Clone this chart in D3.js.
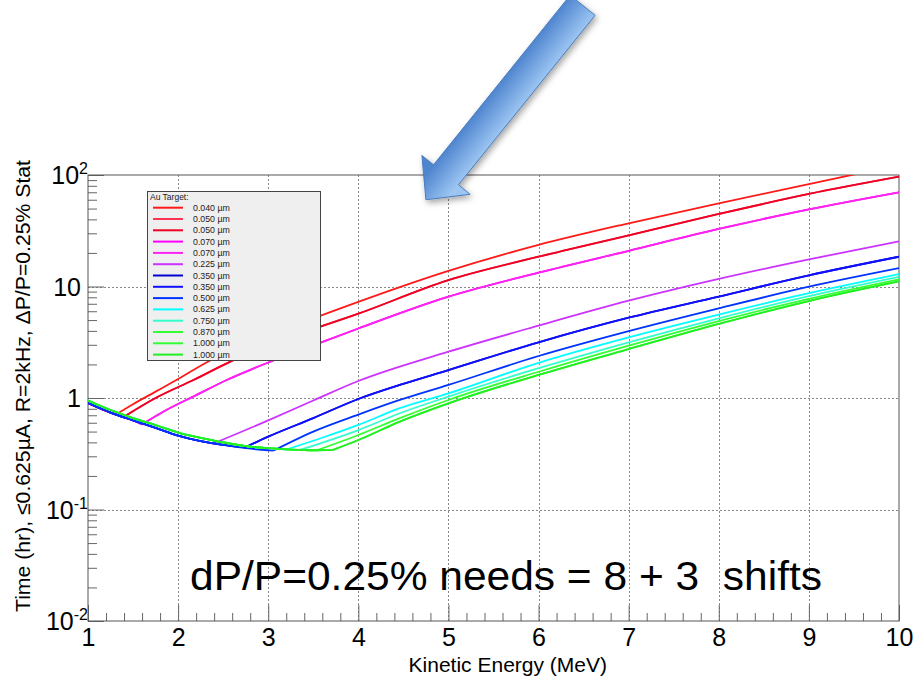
<!DOCTYPE html>
<html>
<head>
<meta charset="utf-8">
<script src="https://cdn.jsdelivr.net/npm/d3@7"></script>
<style>
  body { margin: 0; background: #fff; }
  text { font-family: "Liberation Sans", Arial, sans-serif; }
</style>
</head>
<body>
<div id="chart"></div>
<script>
// common low-energy part of the curves (E in MeV, time in hr)
var envE     = [1, 1.25, 1.5, 1.75, 2, 2.25, 2.5, 2.75, 3, 3.25, 3.5];
var envThin  = [0.90, 0.74, 0.63, 0.54, 0.46, 0.41, 0.38, 0.355, 0.34, 0.335, 0.335];
var envThick = [0.95, 0.78, 0.66, 0.57, 0.49, 0.44, 0.40, 0.37, 0.355, 0.345, 0.34];

// rising branch of each target, starting where it leaves the common curve
var rise040  = [[1.32,0.72],[1.5,0.88],[1.75,1.14],[2,1.48],[2.35,2.16],[3,3.6],[3.9,6.8],[5,13.8],[6,23.6],[7,36.9],[8,55.7],[9,83],[10,123]];
var rise050  = [[1.4,0.68],[1.75,1.0],[2.17,1.45],[2.58,2.12],[3.2,3.4],[4,5.7],[5,11.4],[6,18.5],[7,28.8],[8,44.7],[9,67.6],[10,96.6]];
var rise070  = [[1.6,0.58],[1.87,0.78],[2.2,1.06],[2.54,1.45],[2.98,2.05],[3.5,2.97],[4,4.2],[5,8.1],[6,13.3],[7,20.9],[8,32.8],[9,49.2],[10,70]];
var rise225  = [[2.39,0.39],[3,0.63],[3.5,0.95],[4,1.42],[5,2.6],[6,4.46],[7,7.46],[8,11.7],[9,17.5],[10,25.4]];
var rise350  = [[2.74,0.36],[3,0.45],[3.5,0.66],[4,0.98],[4.46,1.31],[5,1.78],[6,3.16],[7,5.25],[8,8.13],[9,12.6],[10,18.5]];
var rise500  = [[3.06,0.338],[3.5,0.5],[4,0.71],[4.46,0.96],[5,1.31],[6,2.38],[7,3.98],[8,6.37],[9,9.95],[10,14.6]];
var rise625  = [[3.2,0.345],[3.6,0.44],[4,0.573],[4.46,0.81],[5,1.1],[6,2.07],[7,3.5],[8,5.6],[9,8.7],[10,12.9]];
var rise750  = [[3.35,0.342],[4,0.516],[4.46,0.73],[5,1.03],[6,1.85],[7,3.16],[8,5.19],[9,8.2],[10,12.2]];
var rise870  = [[3.54,0.34],[4,0.466],[4.46,0.66],[5,0.96],[6,1.72],[7,2.95],[8,4.9],[9,7.76],[10,11.6]];
var rise1000 = [[3.72,0.343],[4,0.42],[4.46,0.614],[5,0.895],[6,1.61],[7,2.75],[8,4.62],[9,7.41],[10,11.1]];

var targets  = ["0.040 \u00b5m","0.050 \u00b5m","0.050 \u00b5m","0.070 \u00b5m","0.070 \u00b5m","0.225 \u00b5m","0.350 \u00b5m",
                "0.350 \u00b5m","0.500 \u00b5m","0.625 \u00b5m","0.750 \u00b5m","0.870 \u00b5m","1.000 \u00b5m","1.000 \u00b5m"];
var rises    = [rise040, rise050, rise050, rise070, rise070, rise225, rise350,
                rise350, rise500, rise625, rise750, rise870, rise1000, rise1000];
var thickEnv = [0,0,0,0,0,0,0,0,0,1,1,1,1,1];
var colors   = ["#ff1a1a","#ff3355","#ee0022","#ff00ff","#ff22f0","#cc33ff","#0000cc",
                "#1010ff","#0033ff","#00ffff","#33ffcc","#33ff33","#33ff33","#22ee22"];

var xTicks = [1,2,3,4,5,6,7,8,9,10];
var yTicks = [0.01, 0.1, 1, 10, 100];
var yExp   = ["-2","-1","","","2"];

var W = 914, H = 684;
var pL = 88, pR = 899, pT = 175, pB = 621;

var svg = d3.select("#chart").append("svg")
    .attr("width", W)
    .attr("height", H);

var x = d3.scaleLinear().domain([1, 10]).range([pL, pR]);
var y = d3.scaleLog().domain([0.01, 100]).range([pB, pT]);

var defs = svg.append("defs");
defs.append("clipPath").attr("id", "plotclip")
  .append("rect").attr("x", pL).attr("y", pT)
  .attr("width", pR - pL).attr("height", pB - pT);

// grid
var grid = svg.append("g");
grid.selectAll(".vg").data(xTicks.slice(1, -1)).enter().append("line")
    .attr("x1", function(d){ return Math.round(x(d)) + 0.5; }).attr("x2", function(d){ return Math.round(x(d)) + 0.5; })
    .attr("y1", pT).attr("y2", pB)
    .attr("stroke", "#888").attr("stroke-width", 1).attr("stroke-dasharray", "2,2");
grid.selectAll(".hg").data(yTicks.slice(1, -1)).enter().append("line")
    .attr("y1", function(d){ return Math.round(y(d)) + 0.5; }).attr("y2", function(d){ return Math.round(y(d)) + 0.5; })
    .attr("x1", pL).attr("x2", pR)
    .attr("stroke", "#888").attr("stroke-width", 1).attr("stroke-dasharray", "2,2");

// x axis, ticks pointing inwards
var minorX = d3.range(1, 10.01, 0.2).filter(function(d){ return Math.abs(d - Math.round(d)) > 0.01; });
svg.append("g")
    .attr("transform", "translate(0," + pB + ")")
    .call(d3.axisBottom(x).tickValues(xTicks).tickSize(-16).tickPadding(7).tickFormat(d3.format("d")))
    .call(function(g){
      g.select(".domain").remove();
      g.selectAll("line").attr("stroke", "#666");
      g.selectAll("text").attr("font-size", 25).attr("fill", "#000")
        .attr("font-family", "'Liberation Sans', Arial, sans-serif");
    });
svg.append("g")
    .attr("transform", "translate(0," + pB + ")")
    .call(d3.axisBottom(x).tickValues(minorX).tickSize(-8).tickFormat(""))
    .call(function(g){
      g.select(".domain").remove();
      g.selectAll("line").attr("stroke", "#666");
    });

// y axis, log ticks
var minorY = [];
[0.01, 0.1, 1, 10].forEach(function(dec){
  for (var k = 2; k <= 9; k++) minorY.push(dec * k);
});
svg.append("g")
    .attr("transform", "translate(" + pL + ",0)")
    .call(d3.axisLeft(y).tickValues(yTicks).tickSize(-16).tickFormat(""))
    .call(function(g){ g.select(".domain").remove(); g.selectAll("line").attr("stroke", "#666"); });
svg.append("g")
    .attr("transform", "translate(" + pL + ",0)")
    .call(d3.axisLeft(y).tickValues(minorY).tickSize(-9).tickFormat(""))
    .call(function(g){ g.select(".domain").remove(); g.selectAll("line").attr("stroke", "#666"); });

var ylab = svg.append("g").selectAll("text").data(yTicks).enter().append("text")
    .attr("x", function(d, i){ return yExp[i] ? 88 : 81; })
    .attr("y", function(d){ return y(d) + 9; })
    .attr("text-anchor", "end")
    .attr("font-size", 25);
ylab.append("tspan").text(function(d){ return d >= 1 && d <= 10 ? d3.format("d")(d) : "10"; });
ylab.append("tspan")
    .attr("font-size", 16)
    .attr("dy", -10)
    .text(function(d, i){ return yExp[i]; });

// frame
svg.append("rect")
    .attr("x", pL).attr("y", pT)
    .attr("width", pR - pL).attr("height", pB - pT)
    .attr("fill", "none").attr("stroke", "#555").attr("stroke-width", 1);

// curves
var line = d3.line()
    .x(function(d){ return x(d[0]); })
    .y(function(d){ return y(d[1]); })
    .curve(d3.curveMonotoneX);

var curves = svg.append("g").attr("clip-path", "url(#plotclip)");
rises.forEach(function(r, i){
  var env = thickEnv[i] ? envThick : envThin;
  var low = [];
  envE.forEach(function(e, j){ if (e < r[0][0]) low.push([e, env[j]]); });
  low.push(r[0]);
  curves.append("path")
    .attr("d", line(low) + line(r))
    .attr("fill", "none")
    .attr("stroke", colors[i])
    .attr("stroke-width", 1.8);
});

// legend
var lg = svg.append("g");
lg.append("rect")
    .attr("x", 147.5).attr("y", 191.5).attr("width", 173).attr("height", 169)
    .attr("fill", "#efefef").attr("stroke", "#444").attr("stroke-width", 1);
lg.append("text").attr("x", 150).attr("y", 200).attr("font-size", 8.5).attr("fill", "#222").text("Au Target:");
var rows = lg.selectAll(".row").data(targets).enter().append("g")
    .attr("transform", function(d, i){ return "translate(0," + (207.7 + i * 11.3) + ")"; });
rows.append("line")
    .attr("x1", 153).attr("x2", 183)
    .attr("stroke", function(d, i){ return colors[i]; })
    .attr("stroke-width", 2);
rows.append("text")
    .attr("x", 193).attr("y", 3)
    .attr("font-size", 8.8).attr("fill", "#222")
    .text(function(d){ return d; });

// axis titles
svg.append("text")
    .attr("x", 607).attr("y", 672)
    .attr("text-anchor", "end")
    .attr("font-size", 21)
    .text("Kinetic Energy (MeV)");
svg.append("text")
    .attr("transform", "translate(30,160) rotate(-90)")
    .attr("text-anchor", "end")
    .attr("font-size", 21)
    .attr("textLength", 452).attr("lengthAdjust", "spacingAndGlyphs")
    .text("Time (hr), \u22640.625\u00b5A, R=2kHz, \u0394P/P=0.25% Stat");

// note
svg.append("text")
    .attr("x", 190).attr("y", 590)
    .attr("font-family", "Lato, 'Open Sans', sans-serif")
    .attr("font-size", 40)
    .attr("textLength", 632).attr("lengthAdjust", "spacingAndGlyphs")
    .style("white-space", "pre")
    .text("dP/P=0.25% needs = 8 + 3  shifts");

// arrow pointing at the top of the 0.040 curve
var tip = [x(4.75), y(60)];
var u = [-0.627, 0.778], p = [0.778, 0.627];
function pt(a, b){ return [tip[0] + u[0]*a + p[0]*b, tip[1] + u[1]*a + p[1]*b]; }
var arrowPts = [pt(0,0), pt(-32,31), pt(-32,16), pt(-250,16), pt(-250,-16), pt(-32,-16), pt(-32,-31)];

var grad = defs.append("linearGradient").attr("id", "arrowgrad")
    .attr("gradientUnits", "userSpaceOnUse")
    .attr("x1", pt(-120,-16)[0]).attr("y1", pt(-120,-16)[1])
    .attr("x2", pt(-120,16)[0]).attr("y2", pt(-120,16)[1]);
grad.append("stop").attr("offset", "0%").attr("stop-color", "#4f85cf");
grad.append("stop").attr("offset", "100%").attr("stop-color", "#9cc5f2");
var sh = defs.append("filter").attr("id", "arrowshadow")
    .attr("x", "-20%").attr("y", "-20%").attr("width", "140%").attr("height", "140%");
sh.append("feDropShadow").attr("dx", 2).attr("dy", 3).attr("stdDeviation", 3)
    .attr("flood-color", "#000").attr("flood-opacity", 0.35);

svg.append("polygon")
    .attr("points", arrowPts.map(function(q){ return q.join(","); }).join(" "))
    .attr("fill", "url(#arrowgrad)")
    .attr("stroke", "#4a7dbd").attr("stroke-width", 1)
    .attr("filter", "url(#arrowshadow)");
</script>
</body>
</html>
